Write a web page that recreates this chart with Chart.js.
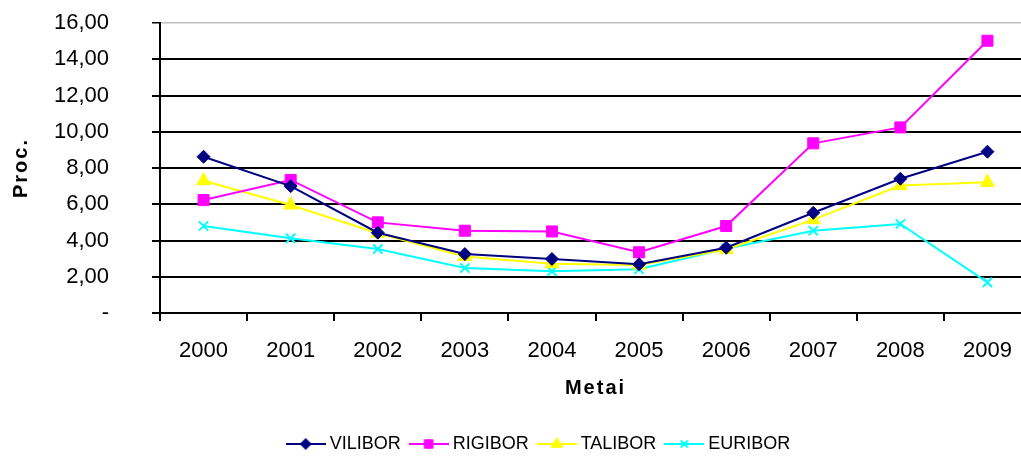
<!DOCTYPE html>
<html>
<head>
<meta charset="utf-8">
<script src="https://cdn.jsdelivr.net/npm/chart.js@4/dist/chart.umd.min.js"></script>
<style>
  html, body { margin: 0; padding: 0; background: #fff; overflow: hidden; }
  #wrap { position: relative; width: 1040px; height: 457px; }
</style>
</head>
<body>
<div id="wrap"><canvas id="rates"></canvas></div>
<script>
const years = ["2000", "2001", "2002", "2003", "2004", "2005", "2006", "2007", "2008", "2009"];
const vilibor = [8.62, 7.0, 4.43, 3.25, 2.98, 2.69, 3.6, 5.53, 7.41, 8.9];
const rigibor = [6.23, 7.34, 5.0, 4.54, 4.5, 3.35, 4.8, 9.36, 10.24, 15.02];
const talibor = [7.3, 5.96, 4.4, 3.12, 2.72, 2.65, 3.5, 5.15, 7.03, 7.21];
const euribor = [4.8, 4.12, 3.53, 2.48, 2.3, 2.41, 3.55, 4.54, 4.91, 1.69];
const yTickLabels = ["-", "2,00", "4,00", "6,00", "8,00", "10,00", "12,00", "14,00", "16,00"];

const FONT = "'Liberation Sans', Arial, sans-serif";

// little line+marker picture for the legend
function legendIcon(color, style, radius, bw) {
  const c = document.createElement("canvas");
  c.width = 40;
  c.height = 16;
  const g = c.getContext("2d");
  g.strokeStyle = color;
  g.fillStyle = color;
  g.lineWidth = 2;
  g.beginPath();
  g.moveTo(0, 8);
  g.lineTo(40, 8);
  g.stroke();
  g.lineWidth = bw;
  Chart.helpers.drawPoint(g, { pointStyle: style, radius, rotation: 0, borderWidth: bw }, 20, 8);
  return c;
}

function series(label, data, color, style, radius, legendRadius, bw) {
  return {
    label,
    data,
    borderColor: color,
    backgroundColor: color,
    borderWidth: 2,
    pointStyle: style,
    pointRadius: radius,
    pointHoverRadius: radius,
    pointBorderWidth: bw,
    pointBackgroundColor: color,
    pointBorderColor: color,
    tension: 0,
    legendIcon: legendIcon(color, style, legendRadius, bw),
  };
}

// scale titles are spaced out a bit in the original
const spacedTitles = {
  id: "spacedTitles",
  afterLayout(chart) {
    ["x", "y"].forEach((id) => {
      const s = chart.scales[id];
      if (!s || s._spaced) return;
      const orig = s.drawTitle.bind(s);
      s.drawTitle = function () {
        this.ctx.letterSpacing = "2px";
        orig();
        this.ctx.letterSpacing = "0px";
      };
      s._spaced = true;
    });
  },
};

// nudge the legend row, as in the original
const legendShift = {
  id: "legendShift",
  afterLayout(chart) {
    const lg = chart.legend;
    if (!lg) return;
    lg.left += 24;
    lg.right += 24;
    lg.top += 6;
    lg.bottom += 6;
  },
};

new Chart(document.getElementById("rates"), {
  type: "line",
  data: {
    labels: years,
    datasets: [
      series("VILIBOR", vilibor, "#000080", "rectRot", 6.5, 5.5, 1),
      series("RIGIBOR", rigibor, "#ff00ff", "rect", 7.8, 6, 1),
      series("TALIBOR", talibor, "#ffff00", "triangle", 8, 6.5, 1),
      series("EURIBOR", euribor, "#00ffff", "crossRot", 6.5, 5, 2),
    ],
  },
  options: {
    responsive: true,
    maintainAspectRatio: false,
    animation: false,
    layout: { padding: { top: 23, right: 7, left: 0, bottom: 0 } },
    plugins: {
      tooltip: { enabled: false },
      legend: {
        position: "bottom",
        labels: {
          color: "#000",
          font: { family: FONT, size: 18 },
          usePointStyle: true,
          pointStyleWidth: 30,
          padding: 13,
          generateLabels(chart) {
            return chart.data.datasets.map((ds, i) => ({
              text: ds.label,
              pointStyle: ds.legendIcon,
              fillStyle: ds.borderColor,
              strokeStyle: ds.borderColor,
              lineWidth: 0,
              hidden: false,
              datasetIndex: i,
            }));
          },
        },
      },
    },
    scales: {
      x: {
        offset: true,
        afterFit(scale) {
          scale.height = 103;
        },
        border: { display: true, color: "#000", width: 2 },
        grid: {
          offset: true,
          drawOnChartArea: false,
          drawTicks: true,
          tickLength: 8,
          color: "#000",
          lineWidth: 2,
        },
        ticks: {
          color: "#000",
          font: { family: FONT, size: 22 },
          padding: 17,
          maxRotation: 0,
          autoSkip: false,
        },
        title: {
          display: true,
          text: "Metai",
          color: "#000",
          font: { family: FONT, size: 20, weight: "bold" },
          padding: { top: 6, bottom: 16 },
        },
      },
      y: {
        min: 0,
        max: 16,
        afterFit(scale) {
          scale.width = 160;
          scale.paddingTop = 0;
          scale.paddingBottom = 0;
        },
        border: { display: true, color: "#000", width: 2 },
        grid: {
          color: (ctx) => (ctx.tick && ctx.tick.value === 16 ? "#c0c0c0" : "#000"),
          lineWidth: (ctx) => (ctx.tick && ctx.tick.value === 16 ? 1.5 : 2),
          tickColor: "#000",
          tickLength: 8,
          drawTicks: true,
        },
        ticks: {
          stepSize: 2,
          color: "#000",
          font: { family: FONT, size: 22 },
          padding: 43,
          callback: (value, i) => yTickLabels[i],
        },
        title: {
          display: true,
          text: "Proc.",
          color: "#000",
          font: { family: FONT, size: 20, weight: "bold" },
          padding: { top: 9, bottom: 0 },
        },
      },
    },
  },
  plugins: [spacedTitles, legendShift],
});
</script>
</body>
</html>
